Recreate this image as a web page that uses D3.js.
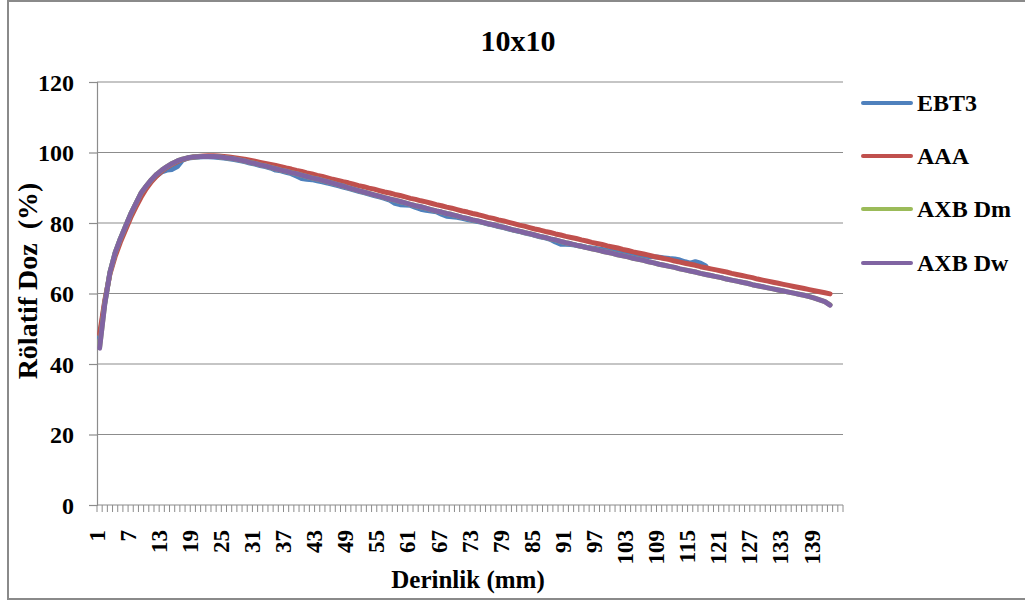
<!DOCTYPE html>
<html>
<head>
<meta charset="utf-8">
<script src="https://cdn.jsdelivr.net/npm/d3@7"></script>
<style>
  html, body { margin: 0; padding: 0; background: #fff; }
  svg { display: block; }
  text { font-family: "Liberation Serif", "Times New Roman", serif; font-weight: bold; fill: #000; }
</style>
</head>
<body>
<svg id="chart" width="1025" height="603"></svg>
<script>
// ---------- DATA ----------
const chartTitle = "10x10";
const xTitle = "Derinlik (mm)";
const yTitle = "Rölatif Doz  (%)";
const depthCategories = d3.range(1, 145); // 1..144 mm
const xTickLabels = [1,7,13,19,25,31,37,43,49,55,61,67,73,79,85,91,97,103,109,115,121,127,133,139];
const yTickValues = [0,20,40,60,80,100,120];
const seriesNames = ["EBT3", "AAA", "AXB Dm", "AXB Dw"];
const seriesColors = ["#4F81BD", "#C0504D", "#9BBB59", "#8064A2"];

const ebt3 = [47.5,57.5,66.0,71.5,75.5,79.0,82.5,85.5,88.3,90.3,
92.0,93.4,94.5,95.0,95.2,96.0,97.8,98.4,98.6,98.7,
98.8,98.8,98.7,98.6,98.4,98.2,98.0,97.7,97.4,97.0,
96.7,96.3,96.0,95.6,95.0,94.8,94.4,94.0,93.3,92.6,
92.4,92.3,92.0,91.7,91.3,91.0,90.6,90.2,89.8,89.4,
89.0,88.6,88.2,87.8,87.4,87.0,86.5,85.6,85.2,85.1,
85.0,84.4,83.9,83.6,83.4,83.2,82.5,81.9,81.8,81.6,
81.3,81.0,80.7,80.4,80.1,79.7,79.4,79.0,78.7,78.3,
77.9,77.6,77.2,76.9,76.5,76.1,75.8,75.4,74.6,74.0,
74.0,73.9,73.7,73.4,73.1,72.9,72.7,72.5,72.2,71.9,
71.6,71.3,71.1,70.9,70.7,70.6,70.5,70.4,70.3,70.1,
69.9,69.8,69.5,69.0,68.6,69.0,68.6,67.8];

const aaa = [48.5,58.0,65.5,70.5,74.5,78.0,81.5,84.5,87.3,89.7,
91.7,93.3,94.7,95.8,96.7,97.4,98.0,98.4,98.7,98.9,
99.0,99.1,99.1,99.0,98.9,98.7,98.5,98.3,98.1,97.8,
97.5,97.2,96.9,96.6,96.3,96.0,95.6,95.3,94.9,94.6,
94.2,93.9,93.5,93.2,92.8,92.4,92.1,91.7,91.4,91.0,
90.6,90.3,89.9,89.6,89.2,88.8,88.5,88.1,87.8,87.4,
87.0,86.7,86.3,86.0,85.6,85.2,84.9,84.5,84.2,83.8,
83.4,83.1,82.7,82.4,82.0,81.6,81.3,80.9,80.6,80.2,
79.8,79.4,79.1,78.7,78.3,78.0,77.6,77.3,76.9,76.6,
76.2,75.9,75.6,75.2,74.9,74.5,74.2,73.9,73.5,73.2,
72.9,72.5,72.2,71.8,71.5,71.2,70.9,70.5,70.2,69.9,
69.6,69.2,68.9,68.6,68.3,68.0,67.6,67.3,67.0,66.7,
66.4,66.1,65.7,65.4,65.1,64.8,64.5,64.1,63.8,63.5,
63.2,62.9,62.6,62.3,62.0,61.7,61.4,61.1,60.8,60.5,
60.2,59.9];

const axbDm = [44.7,57.1,66.0,71.5,75.5,79.0,82.5,85.5,88.5,90.5,
92.3,93.8,95.0,96.0,96.9,97.6,98.1,98.5,98.7,98.8,
98.9,98.9,98.9,98.8,98.6,98.4,98.2,97.9,97.6,97.2,
96.9,96.5,96.2,95.8,95.4,95.0,94.7,94.3,94.0,93.6,
93.2,92.8,92.5,92.1,91.7,91.3,90.9,90.5,90.0,89.6,
89.2,88.8,88.4,88.0,87.6,87.2,86.8,86.5,86.1,85.7,
85.3,84.9,84.6,84.2,83.8,83.4,83.1,82.7,82.4,82.0,
81.6,81.3,80.9,80.6,80.2,79.8,79.5,79.1,78.8,78.4,
78.0,77.7,77.3,77.0,76.6,76.2,75.9,75.5,75.2,74.8,
74.4,74.1,73.7,73.4,73.0,72.7,72.4,72.0,71.7,71.4,
71.0,70.7,70.4,70.0,69.7,69.4,69.0,68.7,68.3,68.0,
67.7,67.4,67.0,66.7,66.4,66.1,65.7,65.4,65.1,64.8,
64.5,64.1,63.8,63.5,63.2,62.9,62.5,62.2,61.9,61.6,
61.3,61.0,60.7,60.4,60.1,59.8,59.5,59.1,58.7,58.2,
57.7,56.8];

const axbDw = [44.5,57.0,66.0,71.5,75.5,79.0,82.5,85.5,88.5,90.5,
92.3,93.8,95.0,96.0,96.9,97.6,98.1,98.5,98.7,98.8,
98.9,98.9,98.9,98.8,98.6,98.4,98.2,97.9,97.6,97.2,
96.9,96.5,96.2,95.8,95.4,95.0,94.7,94.3,94.0,93.6,
93.2,92.8,92.5,92.1,91.7,91.3,90.9,90.5,90.0,89.6,
89.2,88.8,88.4,88.0,87.6,87.2,86.8,86.5,86.1,85.7,
85.3,84.9,84.6,84.2,83.8,83.4,83.1,82.7,82.4,82.0,
81.6,81.3,80.9,80.6,80.2,79.8,79.5,79.1,78.8,78.4,
78.0,77.7,77.3,77.0,76.6,76.2,75.9,75.5,75.2,74.8,
74.4,74.1,73.7,73.4,73.0,72.7,72.4,72.0,71.7,71.4,
71.0,70.7,70.4,70.0,69.7,69.4,69.0,68.7,68.3,68.0,
67.7,67.4,67.0,66.7,66.4,66.1,65.7,65.4,65.1,64.8,
64.5,64.1,63.8,63.5,63.2,62.9,62.5,62.2,61.9,61.6,
61.3,61.0,60.7,60.4,60.1,59.8,59.5,59.1,58.7,58.2,
57.7,56.7];

const seriesValues = [ebt3, aaa, axbDm, axbDw];

// ---------- LAYOUT ----------
const svg = d3.select("#chart");
const plot = { left: 97, right: 843, top: 82, bottom: 505 };
const gridColor = "#8c8c8c";

// outer frame
svg.append("rect")
  .attr("x", 8).attr("y", 1).attr("width", 1030).attr("height", 598)
  .attr("fill", "#fff").attr("stroke", "#8a8a8a").attr("stroke-width", 2);

const x = d3.scaleBand().domain(depthCategories).range([plot.left, plot.right]).padding(0);
const y = d3.scaleLinear().domain([0, 120]).range([plot.bottom, plot.top]);

// gridlines
svg.append("g").selectAll("line")
  .data(yTickValues.filter(v => v > 0))
  .join("line")
  .attr("x1", plot.left).attr("x2", plot.right)
  .attr("y1", d => y(d)).attr("y2", d => y(d))
  .attr("stroke", gridColor).attr("stroke-width", 1.2);

// y axis
const yAxis = d3.axisLeft(y).tickValues(yTickValues).tickSize(8).tickPadding(15);
const gy = svg.append("g").attr("transform", `translate(${plot.left},0)`).call(yAxis);
gy.select(".domain").attr("stroke", gridColor).attr("stroke-width", 1.2);
gy.selectAll(".tick line").attr("stroke", gridColor).attr("stroke-width", 1.2);
gy.selectAll(".tick text")
  .style("font-family", "'Liberation Serif', serif").style("font-weight", "bold")
  .style("font-size", "24px").attr("fill", "#000").attr("dy", "0.35em");

// x axis: ticks at category boundaries
const gx = svg.append("g").attr("transform", `translate(0,${plot.bottom})`);
gx.append("line").attr("x1", plot.left).attr("x2", plot.right).attr("y1", 0).attr("y2", 0)
  .attr("stroke", gridColor).attr("stroke-width", 1.2);
const boundaries = depthCategories.map(d => x(d)).concat([plot.right]);
gx.selectAll("line.tk").data(boundaries).join("line").attr("class", "tk")
  .attr("x1", d => d).attr("x2", d => d).attr("y1", 0).attr("y2", 7)
  .attr("stroke", gridColor).attr("stroke-width", 1);
gx.selectAll("text.lbl").data(xTickLabels).join("text").attr("class", "lbl")
  .attr("transform", d => `translate(${x(d) + x.bandwidth() / 2 - 3},25) rotate(-90)`)
  .attr("text-anchor", "end").attr("dy", "0.35em")
  .style("font-size", "23px")
  .text(d => d);

// lines
const line = d3.line()
  .x((d, i) => x(depthCategories[i]) + x.bandwidth() / 2)
  .y(d => y(d));
svg.append("g").selectAll("path")
  .data(seriesValues)
  .join("path")
  .attr("d", d => line(d))
  .attr("fill", "none")
  .attr("stroke", (d, i) => seriesColors[i])
  .attr("stroke-width", 5)
  .attr("stroke-linejoin", "round")
  .attr("stroke-linecap", "round");

// title
svg.append("text").attr("x", 518).attr("y", 51).attr("text-anchor", "middle")
  .style("font-size", "30px").text(chartTitle);

// axis titles
svg.append("text").attr("x", 468).attr("y", 588).attr("text-anchor", "middle")
  .style("font-size", "25px").text(xTitle);
svg.append("text")
  .attr("transform", "translate(27,281) rotate(-90)")
  .attr("text-anchor", "middle").attr("dy", "0.35em")
  .attr("xml:space", "preserve")
  .style("font-size", "28px").style("white-space", "pre").text(yTitle);

// legend
const legend = svg.append("g");
const legendY = [103, 156, 209, 263];
seriesNames.forEach((name, i) => {
  legend.append("line").attr("x1", 863).attr("x2", 911)
    .attr("y1", legendY[i]).attr("y2", legendY[i])
    .attr("stroke", seriesColors[i]).attr("stroke-width", 4).attr("stroke-linecap", "round");
  legend.append("text").attr("x", 917).attr("y", legendY[i]).attr("dy", "0.35em")
    .style("font-size", "24px").text(name);
});
</script>
</body>
</html>
